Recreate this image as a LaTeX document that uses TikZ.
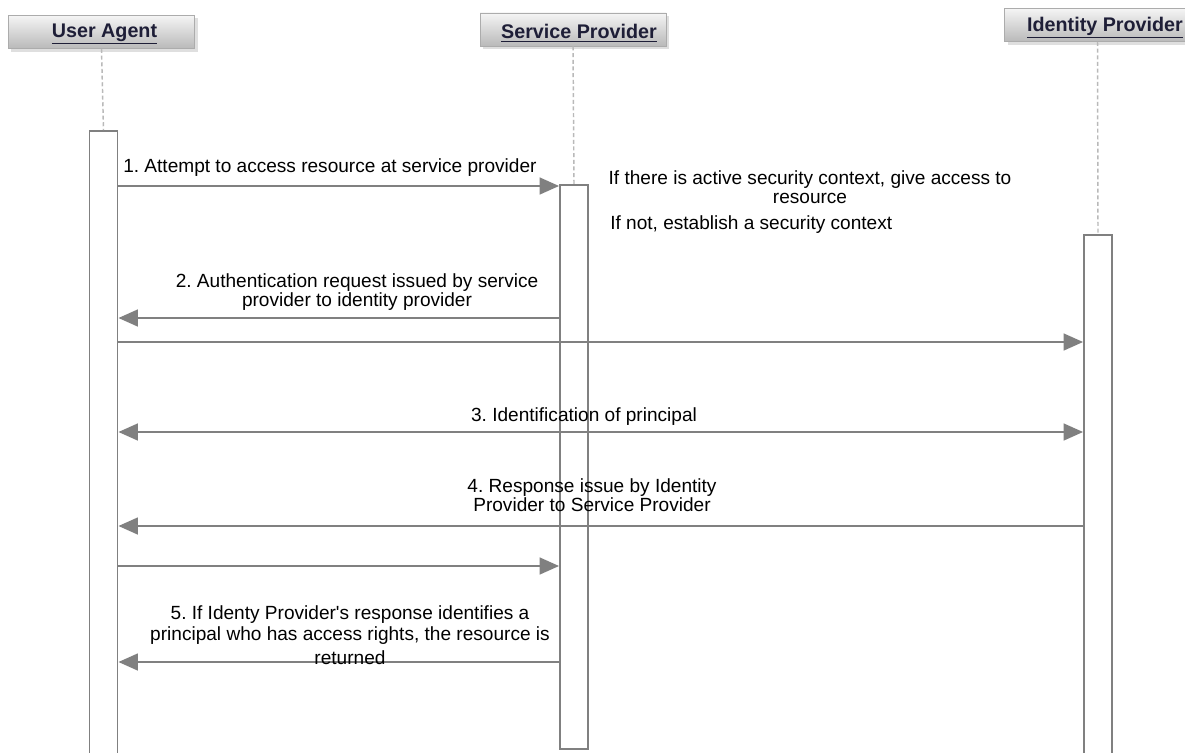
\documentclass[tikz,border=0pt]{standalone}
\usepackage{fontspec}
\setmainfont{Liberation Sans}
\usetikzlibrary{arrows.meta,calc}
\definecolor{linegray}{RGB}{128,128,128}
\definecolor{hdrtext}{RGB}{30,30,55}
\tikzset{
  px/.style={x=0.75pt,y=-0.75pt},
  header/.style={draw=gray!65, top color=gray!8, bottom color=gray!55, minimum width=139.5pt, minimum height=25pt, inner sep=0pt},
  hdrlbl/.style={font=\fontsize{14.8}{16}\selectfont\bfseries, text=hdrtext, inner sep=0pt},
  lifeline/.style={draw=gray!55, line width=1.1pt, dash pattern=on 3pt off 2pt},
  activation/.style={draw=linegray, fill=white, line width=1.4pt, minimum width=21pt, inner sep=0pt},
  msg/.style={draw=linegray, line width=1.6pt, -{Triangle[length=14.5pt,width=12.5pt]}},
  bimsg/.style={draw=linegray, line width=1.6pt, {Triangle[length=14.5pt,width=12.5pt]}-{Triangle[length=14.5pt,width=12.5pt]}},
  lbl/.style={font=\fontsize{14.3}{14.5}\selectfont, inner sep=0pt, align=center},
}
\begin{document}
\frenchspacing
\begin{tikzpicture}[px]
\clip (0,0) rectangle (1185,753);
\fill[white] (0,0) rectangle (1185,753);
% headers
\fill[gray!25] (11,18) rectangle (198,52);
\node[header] (hua) at (101.5,32) {};
\node[hdrlbl] (tua) at (104.5,34) {\underline{User Agent}};
\fill[gray!25] (483,16) rectangle (669,49);
\node[header] (hsp) at (573,29.5) {};
\node[hdrlbl] (tsp) at (579,33) {\underline{Service Provider}};
\fill[gray!25] (1008,11) rectangle (1195,45);
\node[header] (hidp) at (1097.5,25) {};
\node[hdrlbl] (tidp) at (1105,28) {\underline{Identity Provider}};
% activation boxes
\node[activation, anchor=north, minimum height=480pt] (ua) at (103.5,130) {};
\node[activation, anchor=north, minimum height=423pt] (sp) at (574,184) {};
\node[activation, anchor=north, minimum height=400pt] (idp) at (1098,234) {};
% lifelines
\draw[lifeline] (hua.south) -- (ua.north);
\draw[lifeline] (hsp.south) -- (sp.north);
\draw[lifeline] (hidp.south) -- (idp.north);
% messages
\coordinate (y1) at (0,186);
\coordinate (y2) at (0,318);
\coordinate (y2b) at (0,342);
\coordinate (y3) at (0,432);
\coordinate (y4) at (0,526);
\coordinate (y4b) at (0,566);
\coordinate (y5) at (0,662);
\draw[msg] (ua.east |- y1) -- (sp.west |- y1);
\node[lbl, anchor=west] (l1) at (123,168) {1. Attempt to access resource at service provider};
\draw[msg] (sp.west |- y2) -- (ua.east |- y2);
\node[lbl] (l2) at (357,292) {2. Authentication request issued by service\\provider to identity provider};
\draw[msg] (ua.east |- y2b) -- (idp.west |- y2b);
\draw[bimsg] (ua.east |- y3) -- (idp.west |- y3);
\node[lbl] (l3) at (584,417) {3. Identification of principal};
\draw[msg] (idp.west |- y4) -- (ua.east |- y4);
\node[lbl] (l4) at (592,495) {4. Response issue by Identity\\ Provider to Service Provider};
\draw[msg] (ua.east |- y4b) -- (sp.west |- y4b);
\draw[msg] (sp.west |- y5) -- (ua.east |- y5);
\node[lbl] (l5) at (350,635) {5. If Identy Provider\textquotesingle s response identifies a\\[1pt]principal who has access rights, the resource is\\[3.5pt]returned};
% notes
\node[lbl] (n1) at (810,187) {If there is active security context, give access to\\resource};
\node[lbl, anchor=west] (n2) at (610,225) {If not, establish a security context};
\end{tikzpicture}
\end{document}
